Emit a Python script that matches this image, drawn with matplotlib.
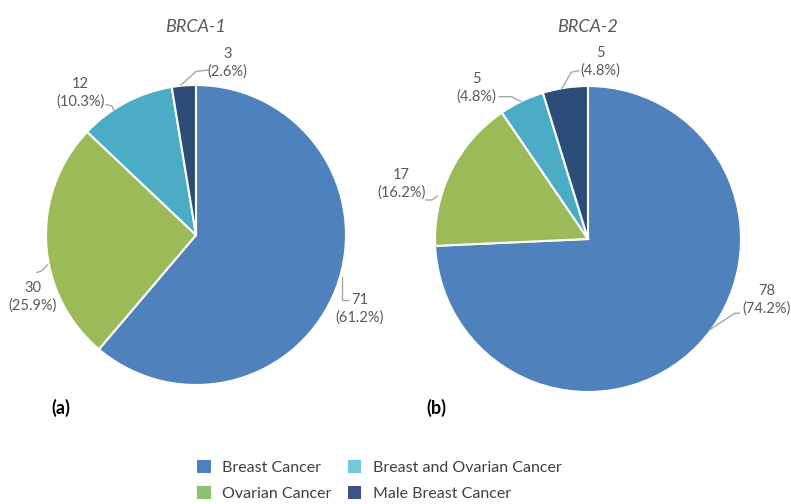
import matplotlib
matplotlib.use("Agg")
import matplotlib.pyplot as plt
from matplotlib.patches import Patch

plt.rcParams["font.family"] = ["Lato", "DejaVu Sans"]

# --- data -------------------------------------------------------------
categories = ["Breast Cancer", "Ovarian Cancer",
              "Breast and Ovarian Cancer", "Male Breast Cancer"]
brca1_counts = [71, 30, 12, 3]
brca1_pcts = [61.2, 25.9, 10.3, 2.6]
brca2_counts = [78, 17, 5, 5]
brca2_pcts = [74.2, 16.2, 4.8, 4.8]
panel_titles = ["BRCA-1", "BRCA-2"]
panel_tags = ["(a)", "(b)"]

slice_colors = ["#4F81BD", "#9BBB59", "#4BACC6", "#2C4D77"]
legend_colors = ["#4F81BD", "#8DC26E", "#72C8DC", "#3E5489"]

W, H = 791, 504
fig = plt.figure(figsize=(W / 100, H / 100), dpi=100)
fig.patch.set_facecolor("white")

label_color = "#595959"
leader_color = "#A6A6A6"


def pie_axes(cx, cy, r):
    return fig.add_axes([(cx - r) / W, 1 - (cy + r) / H, 2 * r / W, 2 * r / H])


# label layout per slice: text centre, and leader polyline (data units)
layout1 = [
    ((1.09, -0.49), [(0.973, -0.28), (0.973, -0.43), (1.01, -0.43)]),
    ((-1.09, -0.41), [(-0.99, -0.20), (-1.03, -0.24), (-1.06, -0.25)]),
    ((-0.77, 0.95), [(-0.55, 0.835), (-0.56, 0.86), (-0.60, 0.87)]),
    ((0.21, 1.15), [(-0.10, 1.0), (0.0, 1.09), (0.08, 1.10)]),
]
layout2 = [
    ((1.17, -0.40), [(0.80, -0.59), (0.96, -0.485), (0.99, -0.485)]),
    ((-1.22, 0.36), [(-0.985, 0.28), (-1.02, 0.255), (-1.06, 0.255)]),
    ((-0.73, 0.99), [(-0.44, 0.90), (-0.50, 0.93), (-0.58, 0.93)]),
    ((0.08, 1.155), [(-0.17, 0.985), (-0.11, 1.09), (-0.06, 1.10)]),
]

panels = [
    (196, 235, 150, brca1_counts, brca1_pcts, layout1, 61),
    (588, 239, 153, brca2_counts, brca2_pcts, layout2, 436),
]

for i, (cx, cy, r, counts, pcts, layout, tag_x) in enumerate(panels):
    ax = pie_axes(cx, cy, r)
    ax.pie(counts, colors=slice_colors, startangle=90, counterclock=False,
           radius=1.0, wedgeprops=dict(edgecolor="white", linewidth=1.5))
    ax.set_xlim(-1, 1)
    ax.set_ylim(-1, 1)
    ax.set_aspect("equal")
    ax.axis("off")
    for n, p, ((tx, ty), line) in zip(counts, pcts, layout):
        xs, ys = zip(*line)
        ax.plot(xs, ys, color=leader_color, lw=1.0, clip_on=False)
        ax.text(tx, ty, f"{n}\n({p:.1f}%)", ha="center", va="center",
                fontsize=10.5, color=label_color, linespacing=1.3,
                clip_on=False)
    fig.text(cx / W, 1 - 27 / H, panel_titles[i], ha="center", va="center",
             fontsize=13, style="italic", color=label_color)
    fig.text(tag_x / W, 1 - 408 / H, panel_tags[i], ha="center",
             va="center", fontsize=13, fontweight="bold", color="black")

handles = [Patch(facecolor=c, edgecolor="none") for c in legend_colors]
fig.legend(handles, categories, ncol=2, loc="upper left",
           bbox_to_anchor=(197 / W, 1 - 460 / H), frameon=False,
           fontsize=11.5, handlelength=0.85, handleheight=0.85,
           handletextpad=0.7, columnspacing=1.05, labelspacing=0.72,
           borderpad=0, borderaxespad=0, labelcolor="#404040")

fig.savefig("out.png", dpi=100, facecolor="white")
